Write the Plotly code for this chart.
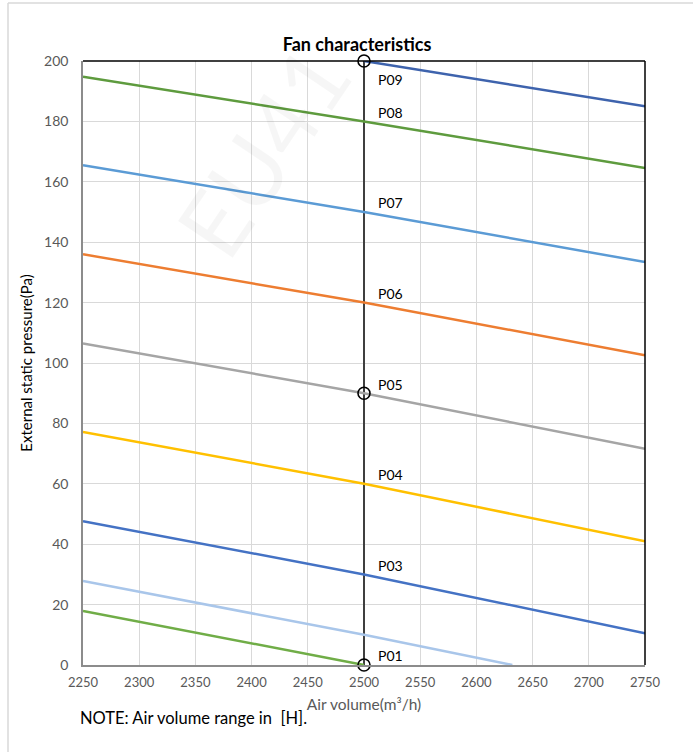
import plotly.graph_objects as go

# ---------------- data ----------------
series_names = ["P01", "P02", "P03", "P04", "P05", "P06", "P07", "P08", "P09"]
series_x = {
    "P01": [2250, 2500],
    "P02": [2250, 2500, 2632],
    "P03": [2250, 2500, 2750],
    "P04": [2250, 2500, 2750],
    "P05": [2250, 2500, 2750],
    "P06": [2250, 2500, 2750],
    "P07": [2250, 2500, 2750],
    "P08": [2250, 2500, 2750],
    "P09": [2500, 2750],
}
series_y = {
    "P01": [17.9, 0],
    "P02": [27.8, 10, 0],
    "P03": [47.6, 30, 10.5],
    "P04": [77.2, 60, 41.0],
    "P05": [106.5, 90, 71.6],
    "P06": [136.0, 120, 102.6],
    "P07": [165.5, 150, 133.4],
    "P08": [194.8, 180, 164.6],
    "P09": [200, 185.0],
}
series_colors = {
    "P01": "#70AD47",
    "P02": "#A9C6EA",
    "P03": "#4472C4",
    "P04": "#FFC000",
    "P05": "#A5A5A5",
    "P06": "#ED7D31",
    "P07": "#5B9BD5",
    "P08": "#5E9B3E",
    "P09": "#3E63AD",
}
labelled = ["P01", "P03", "P04", "P05", "P06", "P07", "P08", "P09"]
label_values = {"P01": 0, "P03": 30, "P04": 60, "P05": 90, "P06": 120,
                "P07": 150, "P08": 180, "P09": 200}

ref_x = [2500, 2500]
ref_y = [0, 200]
marker_x = [2500, 2500, 2500]
marker_y = [0, 90, 200]

x_ticks = [2250, 2300, 2350, 2400, 2450, 2500, 2550, 2600, 2650, 2700, 2750]
y_ticks = [0, 20, 40, 60, 80, 100, 120, 140, 160, 180, 200]

# ---------------- figure ----------------
L, R, T, B = 83, 48, 61, 87
W, H = 693, 752
pw, ph = W - L - R, H - T - B


def px(xp):
    return (xp - L) / pw


def py(yp):
    return (H - B - yp) / ph


fig = go.Figure()

fig.add_trace(go.Scatter(x=ref_x, y=ref_y, mode="lines",
                         line=dict(color="#3f3f3f", width=2),
                         hoverinfo="skip", showlegend=False))

for name in series_names:
    fig.add_trace(go.Scatter(x=series_x[name], y=series_y[name], mode="lines",
                             name=name,
                             line=dict(color=series_colors[name], width=2.5),
                             hoverinfo="skip", showlegend=False))

fig.add_trace(go.Scatter(x=marker_x, y=marker_y, mode="markers",
                         marker=dict(symbol="circle-open", size=12,
                                     color="#000000",
                                     line=dict(color="#000000", width=1.6)),
                         hoverinfo="skip", showlegend=False, cliponaxis=False))

annotations = []
for name in labelled:
    v = label_values[name]
    off = -6 if name == "P09" else 3
    annotations.append(dict(x=2511, y=v + off, xref="x", yref="y",
                            text=name, showarrow=False, xanchor="left",
                            yanchor="middle",
                            font=dict(family="Lato, sans-serif", size=14,
                                      color="#000000")))

# watermark
annotations.append(dict(x=px(262), y=py(150), xref="paper", yref="paper",
                        xanchor="center", yanchor="middle",
                        text="EU41", showarrow=False, textangle=-56,
                        font=dict(family="Lato, sans-serif", size=92,
                                  color="rgba(0,0,0,0.035)")))
# note
annotations.append(dict(x=px(78), y=py(718), xref="paper", yref="paper",
                        text="NOTE: Air volume range in\u00a0\u00a0[H].",
                        showarrow=False, xanchor="left", yanchor="middle",
                        font=dict(family="Lato, sans-serif", size=16.5,
                                  color="#000000")))

fig.update_layout(
    width=W, height=H,
    margin=dict(l=L, r=R, t=T, b=B),
    paper_bgcolor="white", plot_bgcolor="white",
    font=dict(family="Lato, sans-serif", color="#595959"),
    title=dict(text="<b>Fan characteristics</b>", x=px(357),
               xref="paper", xanchor="center",
               y=1 - 45 / H, yref="container", yanchor="middle",
               font=dict(family="Lato, sans-serif", size=18, color="#000000")),
    annotations=annotations,
    shapes=[
        dict(type="line", xref="paper", yref="paper", x0=0, x1=1, y0=1, y1=1,
             line=dict(color="#000000", width=1.5)),
        dict(type="line", xref="paper", yref="paper", x0=1, x1=1, y0=0, y1=1,
             line=dict(color="#000000", width=1.5)),
        dict(type="line", xref="paper", yref="paper",
             x0=px(8), x1=px(8), y0=py(H), y1=py(3),
             line=dict(color="#d9d9d9", width=1.5)),
        dict(type="line", xref="paper", yref="paper",
             x0=px(8), x1=px(W), y0=py(3), y1=py(3),
             line=dict(color="#d9d9d9", width=1.5)),
    ],
)

fig.update_xaxes(range=[2250, 2750], tickvals=x_ticks, ticks="",
                 showgrid=True, gridcolor="#d9d9d9", gridwidth=1,
                 showline=True, linecolor="#8c8c8c", linewidth=1.5,
                 zeroline=False, ticklabelstandoff=5,
                 tickfont=dict(size=13, color="#595959"),
                 title=dict(text="Air volume(m³/h)", standoff=10,
                            font=dict(size=15.5, color="#595959")))
fig.update_yaxes(range=[0, 200], tickvals=y_ticks, ticks="",
                 showgrid=True, gridcolor="#d9d9d9", gridwidth=1,
                 showline=True, linecolor="#8c8c8c", linewidth=1.5,
                 zeroline=False, ticklabelstandoff=10,
                 tickfont=dict(size=14, color="#595959"),
                 title=dict(text="External static pressure(Pa)", standoff=8,
                            font=dict(size=15, color="#000000")))

fig.write_html("out.html", config={"displayModeBar": False},
               post_script="document.body.style.margin='0';")
